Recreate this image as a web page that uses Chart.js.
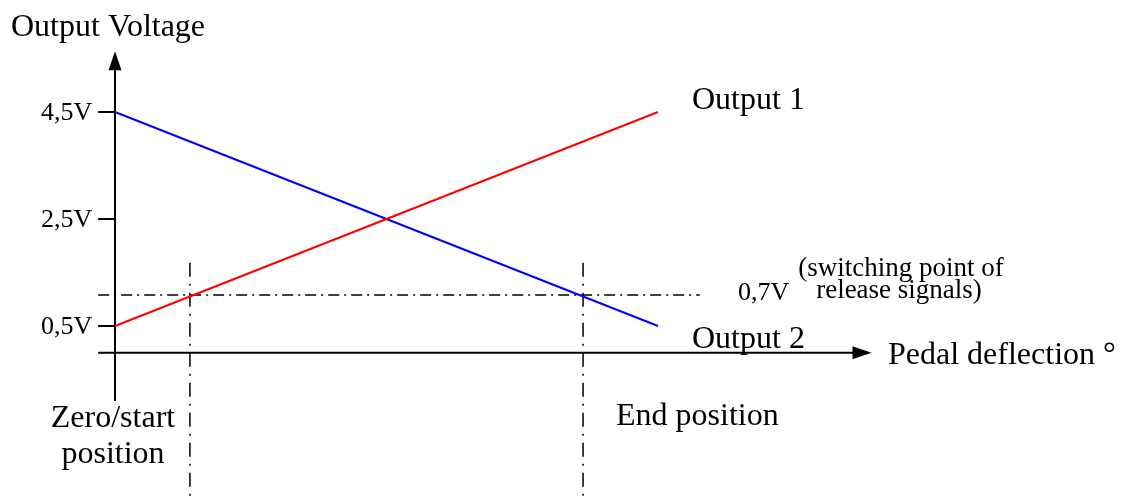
<!DOCTYPE html>
<html>
<head>
<meta charset="utf-8">
<script src="https://cdn.jsdelivr.net/npm/chart.js@4/dist/chart.umd.min.js"></script>
<style>
  html, body { margin: 0; padding: 0; background: #fff; }
  #wrap { width: 1121px; height: 503px; position: relative; }
</style>
</head>
<body>
<div id="wrap"><canvas id="c" width="1121" height="503"></canvas></div>
<script>
// ---- data ----
const pedalPositions = [0, 100];          // start and end of pedal travel (relative)
const output1 = [0.5, 4.5];               // V, rising signal
const output2 = [4.5, 0.5];               // V, falling signal
const switchLevel = [1.08, 1.08];         // drawn level of the switching point
const switchLevelLabel = '0,7V';
const switchPositions = [13.8, 86.2];     // where outputs cross the switching level
const yTickValues = [0.5, 2.5, 4.5];
const yTickLabels = ['0,5V', '2,5V', '4,5V'];
const seriesLabels = ['Output 1', 'Output 2'];
const axisTitles = ['Pedal deflection °', 'Output Voltage'];
const positionLabels = [['Zero/start', 'position'], ['End position']];
const switchNote = ['(switching point of', 'release signals)'];

// ---- axis extents (in data units) ----
const xAxisExtent = [-3.1, 136];
const yAxisExtent = [-0.9, 5.3];
const switchLineExtent = [-3.1, 107.7];
const markerExtent = [1.68, -2.7];

const SERIF = "'Liberation Serif', 'Times New Roman', serif";
const dashDotH = [11, 5, 2, 5];
const dashDotV = [14, 7, 2, 7];

const datasets = [
  { label: seriesLabels[0], data: pedalPositions.map((x, i) => ({ x, y: output1[i] })),
    borderColor: '#ff0000', borderWidth: 2 },
  { label: seriesLabels[1], data: pedalPositions.map((x, i) => ({ x, y: output2[i] })),
    borderColor: '#0000ff', borderWidth: 2 },
  { label: 'switch', data: switchLineExtent.map(x => ({ x, y: switchLevel[0] })),
    borderColor: '#000', borderWidth: 1.5, borderDash: dashDotH },
];
switchPositions.forEach(p => {
  datasets.push({ label: 'marker', data: markerExtent.map(y => ({ x: p, y })),
    borderColor: '#000', borderWidth: 1.5, borderDash: dashDotV });
});
// axes drawn as data lines through the scales
datasets.push({ label: 'xaxis', data: xAxisExtent.map(x => ({ x, y: 0 })), borderColor: '#000', borderWidth: 2 });
datasets.push({ label: 'yaxis', data: yAxisExtent.map(y => ({ x: 0, y })), borderColor: '#000', borderWidth: 2 });
yTickValues.forEach(v => {
  datasets.push({ label: 'tick', data: [{ x: xAxisExtent[0], y: v }, { x: 0, y: v }], borderColor: '#000', borderWidth: 2 });
});

const decor = {
  id: 'decor',
  afterDatasetsDraw(chart) {
    const ctx = chart.ctx;
    const xs = chart.scales.x, ys = chart.scales.y;
    ctx.save();
    ctx.fillStyle = '#000';
    // arrowheads
    const y0 = ys.getPixelForValue(0);
    const xTip = xs.getPixelForValue(xAxisExtent[1]);
    ctx.beginPath();
    ctx.moveTo(xTip + 18, y0);
    ctx.lineTo(xTip - 1, y0 - 6.5);
    ctx.lineTo(xTip - 1, y0 + 6.5);
    ctx.closePath(); ctx.fill();
    const x0 = xs.getPixelForValue(0);
    const yTip = ys.getPixelForValue(yAxisExtent[1]);
    ctx.beginPath();
    ctx.moveTo(x0, yTip - 18);
    ctx.lineTo(x0 - 6.5, yTip + 1);
    ctx.lineTo(x0 + 6.5, yTip + 1);
    ctx.closePath(); ctx.fill();

    ctx.textBaseline = 'alphabetic';
    // tick labels
    ctx.font = '26px ' + SERIF;
    ctx.textAlign = 'right';
    yTickValues.forEach((v, i) => {
      ctx.fillText(yTickLabels[i], xs.getPixelForValue(xAxisExtent[0]) - 6, ys.getPixelForValue(v) + 8);
    });
    // titles
    ctx.textAlign = 'left';
    ctx.font = '32px ' + SERIF;
    ctx.fillText(axisTitles[1], 11, 36);
    ctx.fillText(axisTitles[0], 888, 364);
    ctx.fillText(seriesLabels[0], 692, 109);
    ctx.fillText(seriesLabels[1], 692, 348);
    ctx.fillText(positionLabels[1][0], 616, 425);
    ctx.textAlign = 'center';
    ctx.fillText(positionLabels[0][0], 113, 427);
    ctx.fillText(positionLabels[0][1], 113, 463);
    // switching level
    ctx.textAlign = 'left';
    ctx.font = '26px ' + SERIF;
    ctx.fillText(switchLevelLabel, 738, 300);
    ctx.textAlign = 'center';
    ctx.font = '27px ' + SERIF;
    ctx.fillText(switchNote[0], 901, 276);
    ctx.fillText(switchNote[1], 899, 298);
    ctx.restore();
  }
};

const PXX = 5.43, PXY = 53.5;
new Chart(document.getElementById('c'), {
  type: 'line',
  data: { datasets },
  options: {
    responsive: false,
    animation: false,
    events: [],
    layout: { padding: 0 },
    elements: { point: { radius: 0 }, line: { tension: 0, borderCapStyle: 'butt' } },
    plugins: { legend: { display: false }, tooltip: { enabled: false }, title: { display: false } },
    scales: {
      x: { type: 'linear', display: false, min: -115 / PXX, max: (1121 - 115) / PXX },
      y: { type: 'linear', display: false, max: 4.5 + 112 / PXY, min: 4.5 + 112 / PXY - 503 / PXY }
    }
  },
  plugins: [decor]
});
</script>
</body>
</html>
